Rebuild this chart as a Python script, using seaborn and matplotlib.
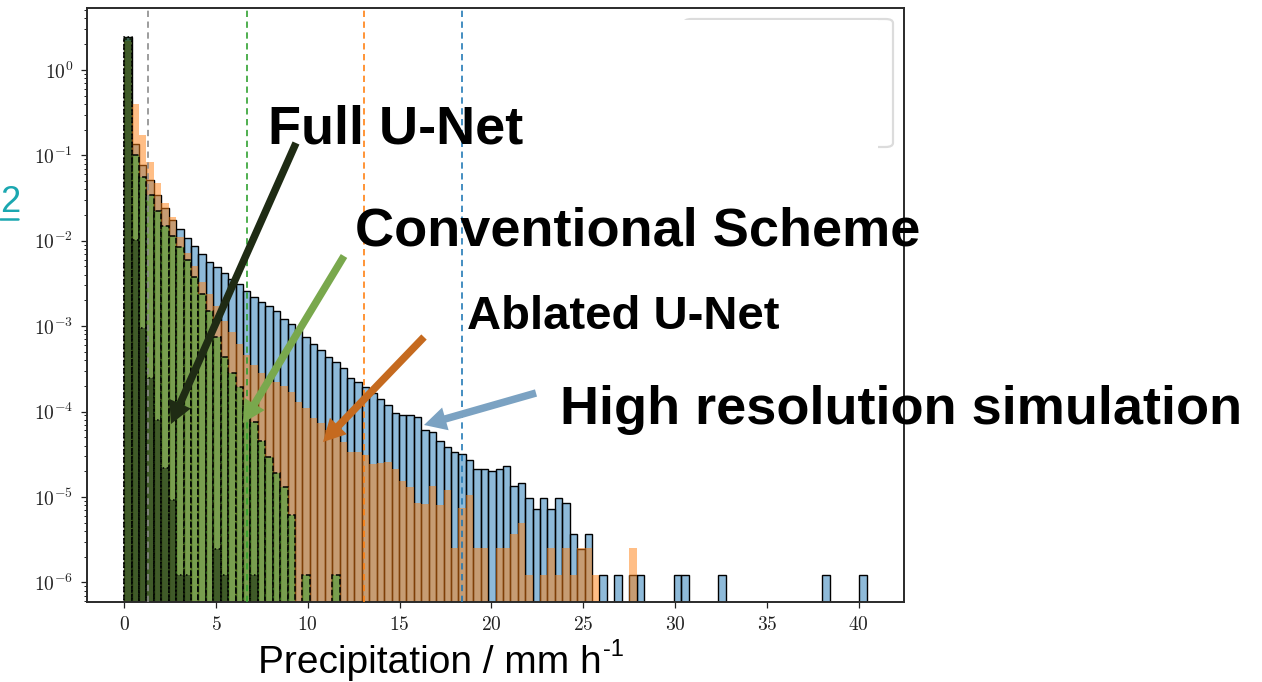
import numpy as np
import pandas as pd
import matplotlib
matplotlib.use("Agg")
import matplotlib.pyplot as plt
import seaborn as sns
from matplotlib.patches import FancyBboxPatch, Rectangle
from matplotlib.lines import Line2D
from matplotlib.ticker import FixedLocator, FuncFormatter, NullFormatter, LogLocator

# 100 equal bins of precipitation (mm/h)
bin_edges = list(np.linspace(0.0, 40.45, 101))

# probability density per bin
hires = [
    2.40, 0.135, 0.077, 0.051, 0.034, 0.024, 0.0175, 0.0136, 0.0107, 0.0086,
    0.0069, 0.0057, 0.0049, 0.0042, 0.0036, 0.0031, 0.0026, 0.0022, 0.0019, 0.0017,
    0.0015, 0.0012, 0.00105, 9.0e-4, 7.5e-4, 6.2e-4, 5.2e-4, 4.4e-4, 3.8e-4, 3.2e-4,
    2.5e-4, 2.2e-4, 1.95e-4, 1.65e-4, 1.4e-4, 1.2e-4, 9.6e-5, 9.2e-5, 9.1e-5, 8.7e-5,
    6.0e-5, 5.8e-5, 4.5e-5, 3.8e-5, 3.4e-5, 3.2e-5, 2.7e-5, 2.1e-5, 2.1e-5, 2.0e-5,
    2.1e-5, 2.3e-5, 1.34e-5, 1.46e-5, 9.8e-6, 7.3e-6, 9.8e-6, 7.3e-6, 9.8e-6, 8.5e-6,
    3.7e-6, 2.45e-6, 3.7e-6, 0, 1.23e-6, 0, 1.23e-6, 0, 1.23e-6, 1.23e-6,
    0, 0, 0, 0, 1.23e-6, 1.23e-6, 0, 0, 0, 0,
    1.23e-6, 0, 0, 0, 0, 0, 0, 0, 0, 0,
    0, 0, 0, 0, 1.23e-6, 0, 0, 0, 0, 1.23e-6,
]
ablated = [
    2.20, 0.40, 0.172, 0.084, 0.048, 0.028, 0.019, 0.0112, 0.0072, 0.0050,
    0.0033, 0.0024, 0.0017, 0.00115, 8.5e-4, 6.2e-4, 4.6e-4, 3.5e-4, 2.8e-4, 2.4e-4,
    2.2e-4, 2.0e-4, 1.7e-4, 1.3e-4, 1.1e-4, 8.3e-5, 7.3e-5, 6.1e-5, 5.1e-5, 4.4e-5,
    3.4e-5, 3.4e-5, 3.1e-5, 2.4e-5, 2.5e-5, 2.6e-5, 2.1e-5, 1.55e-5, 1.3e-5, 8.5e-6,
    8.3e-6, 1.35e-5, 8.1e-6, 1.2e-5, 2.5e-6, 7.4e-6, 1.05e-5, 2.5e-6, 2.5e-6, 0,
    2.5e-6, 2.5e-6, 3.7e-6, 4.9e-6, 1.23e-6, 0, 1.23e-6, 2.5e-6, 1.23e-6, 2.5e-6,
    1.23e-6, 2.5e-6, 2.5e-6, 1.23e-6, 0, 0, 0, 0, 2.5e-6, 0,
    0, 0, 0, 0, 0, 0, 0, 0, 0, 0,
    0, 0, 0, 0, 0, 0, 0, 0, 0, 0,
    0, 0, 0, 0, 0, 0, 0, 0, 0, 0,
]
conventional = [
    2.30, 0.10, 0.056, 0.034, 0.022, 0.015, 0.0115, 0.0085, 0.0060, 0.0038,
    0.0024, 0.0015, 7.5e-4, 4.4e-4, 2.8e-4, 1.96e-4, 1.2e-4, 7.5e-5, 4.5e-5, 2.9e-5,
    1.9e-5, 1.3e-5, 6.2e-6, 0, 1.23e-6, 0, 0, 0, 1.23e-6, 0,
    0, 0, 0, 0, 0, 0, 0, 0, 0, 0,
    0, 0, 0, 0, 0, 0, 0, 0, 0, 0,
    0, 0, 0, 0, 0, 0, 0, 0, 0, 0,
    0, 0, 0, 0, 0, 0, 0, 0, 0, 0,
    0, 0, 0, 0, 0, 0, 0, 0, 0, 0,
    0, 0, 0, 0, 0, 0, 0, 0, 0, 0,
    0, 0, 0, 0, 0, 0, 0, 0, 0, 0,
]
full_unet = [
    2.45, 0.0102, 9.5e-4, 2.5e-4, 8.0e-5, 2.2e-5, 9.3e-6, 1.23e-6, 1.23e-6, 0,
    0, 0, 2.46e-6, 1.23e-6, 0, 0, 0, 1.23e-6, 0, 0,
    0, 0, 0, 0, 0, 0, 0, 0, 0, 0,
    0, 0, 0, 0, 0, 0, 0, 0, 0, 0,
    0, 0, 0, 0, 0, 0, 0, 0, 0, 0,
    0, 0, 0, 0, 0, 0, 0, 0, 0, 0,
    0, 0, 0, 0, 0, 0, 0, 0, 0, 0,
    0, 0, 0, 0, 0, 0, 0, 0, 0, 0,
    0, 0, 0, 0, 0, 0, 0, 0, 0, 0,
    0, 0, 0, 0, 0, 0, 0, 0, 0, 0,
]

# dashed marker lines (mm/h)
p_full = 1.3
p_conv = 6.7
p_ablated = 13.05
p_hires = 18.42

labels = ["Full U-Net", "Conventional Scheme", "Ablated U-Net", "High resolution simulation"]

centers = [0.5 * (a + b) for a, b in zip(bin_edges[:-1], bin_edges[1:])]
df = pd.DataFrame({
    "center": centers,
    "hires": hires,
    "ablated": ablated,
    "conventional": conventional,
    "full_unet": full_unet,
})

sns.set_style("ticks")
plt.rcParams["font.family"] = ["Liberation Sans", "DejaVu Sans"]
plt.rcParams["mathtext.fontset"] = "cm"

W, H = 1262, 682
fig = plt.figure(figsize=(W / 100, H / 100), dpi=100)
ax = fig.add_axes([87 / W, (H - 602) / H, (904 - 87) / W, (602 - 8) / H])

# histograms, back to front
sns.histplot(data=df, x="center", weights="hires", bins=bin_edges, stat="count",
             color="#1f77b4", alpha=0.5, edgecolor="black", linewidth=1.0, ax=ax)
sns.histplot(data=df, x="center", weights="ablated", bins=bin_edges, stat="count",
             color="#ff7f0e", alpha=0.5, linewidth=0, ax=ax)
sns.histplot(data=df, x="center", weights="conventional", bins=bin_edges, stat="count",
             color="#2ca02c", alpha=0.5, edgecolor="black", linewidth=1.1,
             linestyle="--", ax=ax)
sns.histplot(data=df, x="center", weights="full_unet", bins=bin_edges, stat="count",
             color="#13250a", alpha=0.55, edgecolor="black", linewidth=1.1,
             linestyle=":", ax=ax)

for val, col in [(p_full, "#8a8a8a"), (p_conv, "#2ca02c"),
                 (p_ablated, "#ff7f0e"), (p_hires, "#1f77b4")]:
    ax.axvline(val, color=col, lw=1.3, ls=(0, (3.5, 2.5)), alpha=0.9, zorder=5)

ax.set_yscale("log")
ax.set_xlim(-2.02, 42.47)
ax.set_ylim(10 ** -6.23, 10 ** 0.725)
ax.set_xlabel("")
ax.set_ylabel("")

ax.xaxis.set_major_locator(FixedLocator(range(0, 45, 5)))
ax.xaxis.set_major_formatter(FuncFormatter(lambda v, p: r"$%d$" % round(v)))
ax.yaxis.set_major_locator(FixedLocator([10.0 ** e for e in range(-6, 1)]))
ax.yaxis.set_major_formatter(FuncFormatter(lambda v, p: r"$10^{%d}$" % round(np.log10(v))))
ax.yaxis.set_minor_locator(LogLocator(base=10, subs=np.arange(2, 10), numticks=20))
ax.yaxis.set_minor_formatter(NullFormatter())
ax.tick_params(axis="both", which="major", labelsize=14, length=4, width=0.9,
               color="#222222", labelcolor="#222222", pad=6)
ax.tick_params(axis="y", which="minor", length=2.3, width=0.7, color="#222222")
for s in ax.spines.values():
    s.set_linewidth(1.4)
    s.set_color("#2a2a2a")

# faded legend frame, top right
frame = FancyBboxPatch((684 / W, (H - 147) / H), 209 / W, 128 / H,
                       boxstyle="round,pad=0,rounding_size=0.006",
                       transform=fig.transFigure, fc="white", ec="#dcdcdc",
                       lw=1.6, zorder=10)
fig.patches.append(frame)
fig.patches.append(Rectangle((678 / W, (H - 152) / H), 200 / W, 132 / H,
                             transform=fig.transFigure, fc="white", ec="none", zorder=11))

# annotations with arrows
annot = [
    (labels[0], 268, 143, 39, "#1f2b14", (296, 143), (171, 424)),
    (labels[1], 355, 245, 39, "#79a84d", (344, 256), (243, 423)),
    (labels[2], 467, 329, 34, "#c56a1f", (424, 337), (323, 442)),
    (labels[3], 560, 424, 39, "#7ba2c2", (536, 393), (424, 425)),
]
for text, tx, ty, size, col, start, tip in annot:
    fig.text(tx / W, (H - ty) / H, text, fontsize=size, fontweight="bold",
             color="black", ha="left", va="baseline", zorder=20)
    ax.annotate("", xy=(tip[0], H - tip[1]), xycoords="figure pixels",
                xytext=(start[0], H - start[1]), textcoords="figure pixels",
                annotation_clip=False, zorder=15,
                arrowprops=dict(arrowstyle="simple,head_length=0.8,head_width=0.85,tail_width=0.27",
                                mutation_scale=20, fc=col, ec="none",
                                shrinkA=0, shrinkB=0))

# x label with a plain hyphen superscript
xl = fig.text(258 / W, (H - 673) / H, "Precipitation / mm h",
              fontsize=28, color="black", ha="left", va="baseline")
fig.canvas.draw()
bb = xl.get_window_extent()
fig.text((bb.x1 + 1) / W, (H - 656) / H, "-1", fontsize=17, color="black",
         ha="left", va="baseline")

# slide link number at the left edge
fig.text(0.5 / W, (H - 212) / H, "2", fontsize=26, color="#1aa7b0",
         ha="left", va="baseline")
fig.lines.append(Line2D([0, 18 / W], [(H - 219) / H] * 2, transform=fig.transFigure,
                        color="#1aa7b0", lw=1.8))

fig.savefig("out.png", dpi=100)
